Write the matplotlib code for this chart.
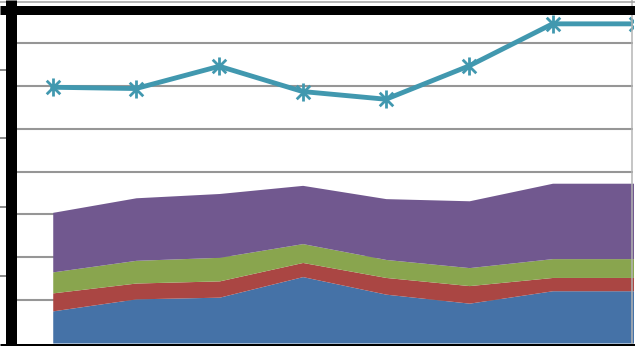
import numpy as np
import matplotlib
matplotlib.use("Agg")
import matplotlib.pyplot as plt
from matplotlib.path import Path
from matplotlib.lines import Line2D

# Category positions and series values
categories = np.arange(8)
blue = [7.5, 10.3, 10.7, 15.5, 11.4, 9.3, 12.2, 12.2]
red = [4.2, 3.7, 3.8, 3.3, 3.9, 4.1, 3.1, 3.1]
green = [4.9, 5.3, 5.5, 4.4, 4.2, 4.2, 4.4, 4.4]
purple = [13.9, 14.6, 14.9, 13.6, 14.2, 15.6, 17.6, 17.6]
trend = [59.7, 59.4, 64.6, 58.7, 56.9, 64.7, 74.5, 74.5]

grid_values = [10, 20, 30, 40, 50, 60, 70]

area_colors = ["#4572A7", "#AA4643", "#89A54E", "#71588F"]
line_color = "#4198AF"

W, H = 635, 346
fig = plt.figure(figsize=(W / 100, H / 100), dpi=100)

# plot area in pixel terms
left_px, right_px = 10.5, 633.0
top_px, bottom_px = 9.5, 344.5
ax = fig.add_axes([left_px / W, (H - bottom_px) / H,
                   (right_px - left_px) / W, (bottom_px - top_px) / H])

ymin, ymax = -0.35, 77.85
ax.set_xlim(-0.507, 6.966)
ax.set_ylim(ymin, ymax)

# stacked areas
stack = np.vstack([blue, red, green, purple])
base = np.zeros(len(categories))
for vals, col in zip(stack, area_colors):
    top = base + vals
    ax.fill_between(categories, base, top, color=col, linewidth=0, zorder=2)
    base = top

# asterisk marker: vertical bar plus an X
star = Path([(0, -1), (0, 1), (-0.75, -0.75), (0.75, 0.75), (-0.75, 0.75), (0.75, -0.75)],
            [Path.MOVETO, Path.LINETO, Path.MOVETO, Path.LINETO, Path.MOVETO, Path.LINETO])
ax.plot(categories, trend, color=line_color, linewidth=3.5, marker=star,
        markersize=13, markeredgewidth=2.0, markeredgecolor=line_color,
        markerfacecolor="none", solid_joinstyle="round", zorder=3)

# horizontal gridlines
ax.set_yticks(grid_values)
ax.yaxis.grid(True, color="#969696", linewidth=1.5, zorder=1)
ax.set_axisbelow(True)
ax.tick_params(axis="y", which="major", length=0, labelleft=False)
ax.set_xticks([])

# outer tick marks on the left axis
ax.set_yticks(ymin + 16.03 * np.arange(1, 5), minor=True)
ax.tick_params(axis="y", which="minor", length=7.6, width=1.4, color="#8a8a8a",
               direction="out", labelleft=False)

for s in ax.spines.values():
    s.set_visible(False)

# frame lines
def px_line(xs, ys, lw_px, color, z=5):
    fig.add_artist(Line2D([x / W for x in xs], [1 - y / H for y in ys],
                          transform=fig.transFigure, color=color,
                          linewidth=lw_px * 0.72, solid_capstyle="butt", zorder=z))

px_line([0, W], [1.5, 1.5], 1.5, "#a0a0a0")
px_line([631.5, 631.5], [0, H], 1.5, "#b4b4b4", z=4)
px_line([0, W], [top_px, top_px], 9, "black")
px_line([0, W], [346.5, 346.5], 7, "black")
px_line([left_px, left_px], [0, H], 11, "black")

fig.savefig("out.png", dpi=100)
